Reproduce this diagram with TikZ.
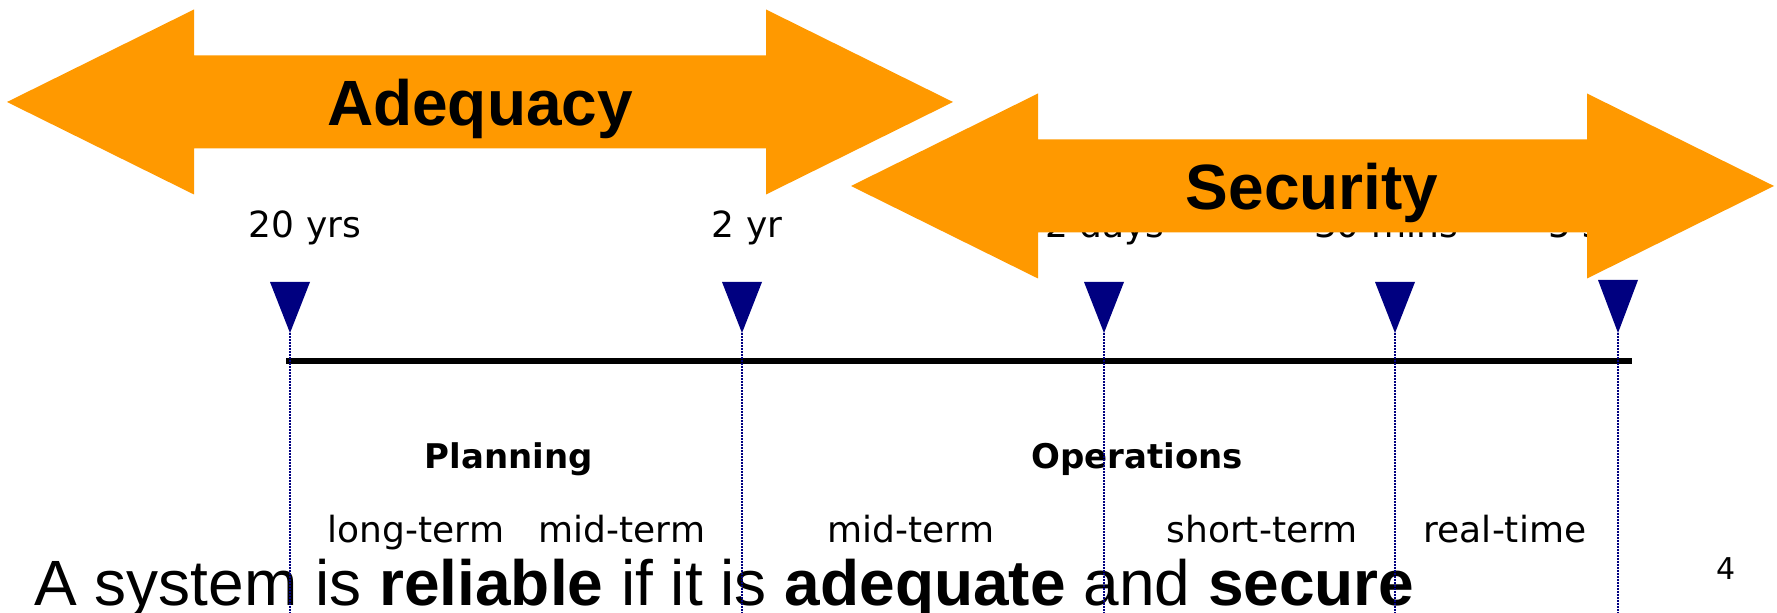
\documentclass[tikz,border=0pt]{standalone}
\usepackage{fontspec}
\setmainfont{Liberation Sans}
\newfontfamily\labelfont{DejaVu Sans}
\usetikzlibrary{positioning}
\definecolor{arroworange}{RGB}{255,153,0}
\definecolor{ticknavy}{RGB}{0,0,128}
\tikzset{
  bigarrow/.style={fill=arroworange},
  arrowtext/.style={font=\fontsize{32}{32}\selectfont\bfseries, inner sep=0pt, anchor=base},
  timelabel/.style={font=\labelfont\fontsize{18}{18}\selectfont, inner sep=0pt, anchor=base},
  phaselabel/.style={font=\labelfont\bfseries\fontsize{17}{17}\selectfont, inner sep=0pt, anchor=base},
  tickmark/.style={fill=ticknavy},
  tickline/.style={draw=ticknavy, line width=1pt, dash pattern=on 0.8pt off 0.7pt},
}
% double headed arrow: left tip x, right tip x, centre y
\newcommand{\dblarrow}[3]{%
  \fill[bigarrow] (#1,#3) -- ({#1+187},{#3-92.5}) -- ({#1+187},{#3-46.5})
    -- ({#2-187},{#3-46.5}) -- ({#2-187},{#3-92.5}) -- (#2,#3)
    -- ({#2-187},{#3+92.5}) -- ({#2-187},{#3+46.5}) -- ({#1+187},{#3+46.5})
    -- ({#1+187},{#3+92.5}) -- cycle;}

\begin{document}
\begin{tikzpicture}[x=0.5pt,y=-0.5pt]
  \useasboundingbox (0,0) rectangle (1777,613);

  \dblarrow{7}{953}{102}
  \node[arrowtext] (adequacy) at (480,126) {Adequacy};

  \node[timelabel] (yrs20) at (305,238) {20 yrs};
  \node[timelabel] (yr2) at (747,238) {2 yr};
  \node[timelabel] (days2) at (1105,238) {2 days};
  \node[timelabel] (mins30) at (1386,238) {30 mins};
  \node[timelabel, anchor=base west] (secs5) at (1548,238) {5 secs};

  \dblarrow{851}{1774}{186}
  \node[arrowtext] (security) at (1312,210) {Security};

  \coordinate (lstart) at (286,361);
  \coordinate (lend) at (1632,361);
  \draw[line width=3pt] (lstart) -- (lend);

  \node[phaselabel] (planning) at (509,469) {Planning};
  \node[phaselabel] (operations) at (1137,469) {Operations};

  \node[timelabel] (longterm) at (416,543) {long-term};
  \node[timelabel] (midterma) at (622,543) {mid-term};
  \node[timelabel] (midtermb) at (911,543) {mid-term};
  \node[timelabel] (shortterm) at (1262,543) {short-term};
  \node[timelabel] (realtime) at (1505,543) {real-time};

  \node[font=\labelfont\fontsize{15}{15}\selectfont, inner sep=0pt, anchor=base] (pagenum) at (1726,580) {4};

  \node[font=\fontsize{32}{32}\selectfont, inner sep=0pt, anchor=base west] (claim) at (34,606)
    {A system is \textbf{reliable} if it is \textbf{adequate} and \textbf{secure}};

  \foreach \x/\top [count=\i] in {290/282, 742/282, 1104/282, 1395/282, 1618/280}{
    \coordinate (tick\i) at (\x,333);
    \coordinate (foot\i) at (\x,625);
    \fill[tickmark] (\x-20,\top) -- (\x+20,\top) -- (tick\i) -- cycle;
    \draw[tickline] (tick\i) -- (foot\i);
  }
\end{tikzpicture}
\end{document}
